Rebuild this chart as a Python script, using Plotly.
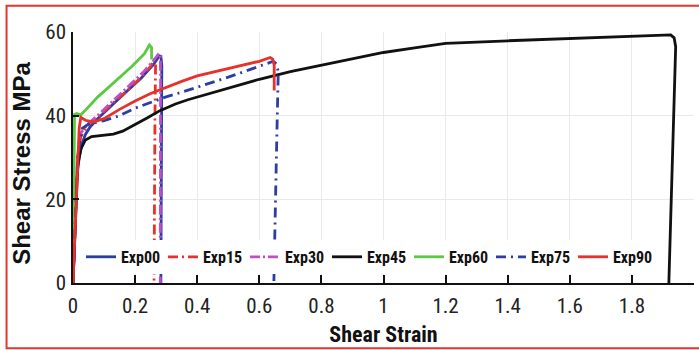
import plotly.graph_objects as go

# ---- data ----
exp00_strain = [0, 0.012, 0.02, 0.03, 0.04, 0.055, 0.08, 0.12, 0.17, 0.22, 0.26, 0.278, 0.283, 0.286, 0.285, 0.283]
exp00_stress = [0, 25, 30, 33.5, 35.5, 37.3, 39.3, 42.2, 45.6, 49.0, 52.3, 54.3, 54.2, 52.0, 30, 0]

exp15_strain = [0, 0.015, 0.025, 0.045, 0.09, 0.13, 0.175, 0.22, 0.25, 0.262, 0.266, 0.264, 0.261]
exp15_stress = [0, 30, 35, 37.5, 40.3, 43.1, 46.0, 49.2, 51.8, 53.5, 52.5, 40, 0]

exp30_strain = [0, 0.015, 0.022, 0.045, 0.087, 0.13, 0.175, 0.225, 0.26, 0.277, 0.281, 0.282, 0.281]
exp30_stress = [0, 30, 35.5, 37.8, 40.6, 43.7, 46.7, 50.3, 53.2, 54.9, 54.2, 50, 0]

exp45_strain = [0, 0.015, 0.025, 0.04, 0.06, 0.1, 0.13, 0.16, 0.2, 0.24, 0.28, 0.33, 0.37, 0.45, 0.52,
                0.6, 0.7, 0.8, 0.9, 1.0, 1.1, 1.2, 1.4, 1.6, 1.8, 1.925, 1.936, 1.941, 1.919]
exp45_stress = [0, 28, 32, 34.2, 35.0, 35.3, 35.6, 36.3, 37.8, 39.5, 41.2, 42.8, 43.8, 45.5, 47.0,
                48.7, 50.5, 52.0, 53.6, 55.1, 56.2, 57.3, 57.9, 58.5, 59.0, 59.3, 58.6, 56.5, 0]

exp60_strain = [0, 0.005, 0.012, 0.025, 0.04, 0.06, 0.08, 0.1, 0.14, 0.19, 0.23, 0.246, 0.253, 0.253]
exp60_stress = [0, 40.3, 40.5, 40.2, 41.3, 43.0, 44.5, 45.8, 48.5, 51.8, 54.8, 56.9, 56.3, 53.4]

exp75_strain = [0, 0.015, 0.03, 0.05, 0.1, 0.15, 0.2, 0.25, 0.3, 0.35, 0.4, 0.45, 0.5, 0.55, 0.6,
                0.645, 0.655, 0.661, 0.655, 0.647]
exp75_stress = [0, 30, 37, 38.0, 38.8, 40.0, 41.8, 43.2, 44.5, 45.6, 46.8, 47.9, 49.2, 50.5, 51.8,
                53.0, 52.4, 50.5, 30, 0.5]

exp90_strain = [0, 0.02, 0.025, 0.04, 0.065, 0.1, 0.15, 0.2, 0.25, 0.3, 0.35, 0.4, 0.5, 0.6, 0.635,
                0.643, 0.648, 0.648]
exp90_stress = [0, 37, 39.6, 38.9, 38.5, 39.3, 41.5, 43.5, 45.3, 46.8, 48.2, 49.5, 51.3, 53.0, 53.9,
                53.5, 52.0, 46.0]

names = ["Exp00", "Exp15", "Exp30", "Exp45", "Exp60", "Exp75", "Exp90"]
colors = ["#2b3ea6", "#e8312a", "#c04fc4", "#111111", "#5cc943", "#2b3ea6", "#e8312a"]
dashes = ["solid", "10px,4px,2px,4px", "10px,3px,2px,3px", "solid", "solid", "10px,5px,2px,5px", "solid"]

x_ticks = [0, 0.2, 0.4, 0.6, 0.8, 1, 1.2, 1.4, 1.6, 1.8, 2]
x_ticklabels = ["0", "0.2", "0.4", "0.6", "0.8", "1", "1.2", "1.4", "1.6", "1.8", "2"]
y_ticks = [0, 20, 40, 60]

x_title = "Shear Strain"
y_title = "Shear Stress MPa"

series = [
    (exp00_strain, exp00_stress), (exp15_strain, exp15_stress), (exp30_strain, exp30_stress),
    (exp45_strain, exp45_stress), (exp60_strain, exp60_stress), (exp75_strain, exp75_stress),
    (exp90_strain, exp90_stress),
]

COND = "Roboto Condensed, Liberation Sans, Arial, sans-serif"

fig = go.Figure()
for (xs, ys), n, c, d in zip(series, names, colors, dashes):
    fig.add_trace(go.Scatter(x=xs, y=ys, mode="lines", name=n,
                             line=dict(color=c, width=2.8, dash=d)))

fig.update_layout(
    width=699, height=350,
    margin=dict(l=73, r=5, t=32, b=67),
    paper_bgcolor="white", plot_bgcolor="white",
    showlegend=True,
    legend=dict(orientation="h", x=0.475, y=0.104, xanchor="center", yanchor="middle",
                bgcolor="white", borderwidth=0, itemwidth=30, entrywidth=37,
                font=dict(family=COND, size=16, color="#111", weight="bold"),
                tracegroupgap=0),
    xaxis=dict(range=[0, 2], tickvals=x_ticks, ticktext=x_ticklabels,
               showgrid=True, gridcolor="#e9e9e9", gridwidth=1,
               showline=True, linecolor="#111", linewidth=1.5,
               ticks="inside", ticklen=8, tickwidth=1.5, tickcolor="#111",
               tickfont=dict(family=COND, size=21, color="#222"),
               ticklabelstandoff=3, zeroline=False,
               title=dict(text="<b>" + x_title + "</b>", standoff=10,
                          font=dict(family=COND, size=22, color="#111"))),
    yaxis=dict(range=[0, 60], tickvals=y_ticks,
               showgrid=True, gridcolor="#e9e9e9", gridwidth=1,
               showline=True, linecolor="#111", linewidth=1.5,
               ticks="inside", ticklen=6, tickwidth=1.5, tickcolor="#111",
               tickfont=dict(family=COND, size=21, color="#222"),
               ticklabelstandoff=1, zeroline=False),
    annotations=[dict(text="<b>" + y_title + "</b>", textangle=-90, showarrow=False,
                      xref="paper", yref="paper", x=-0.082, y=0.475,
                      xanchor="center", yanchor="middle",
                      font=dict(family="Liberation Sans, Arial, sans-serif", size=24, color="#111"))],
    shapes=[dict(type="rect", xref="paper", yref="paper",
                 x0=-0.107, x1=1.03, y0=-0.26, y1=1.105,
                 line=dict(color="#e5372c", width=2), fillcolor="rgba(0,0,0,0)", layer="above")],
)

fig.write_html("out.html")
